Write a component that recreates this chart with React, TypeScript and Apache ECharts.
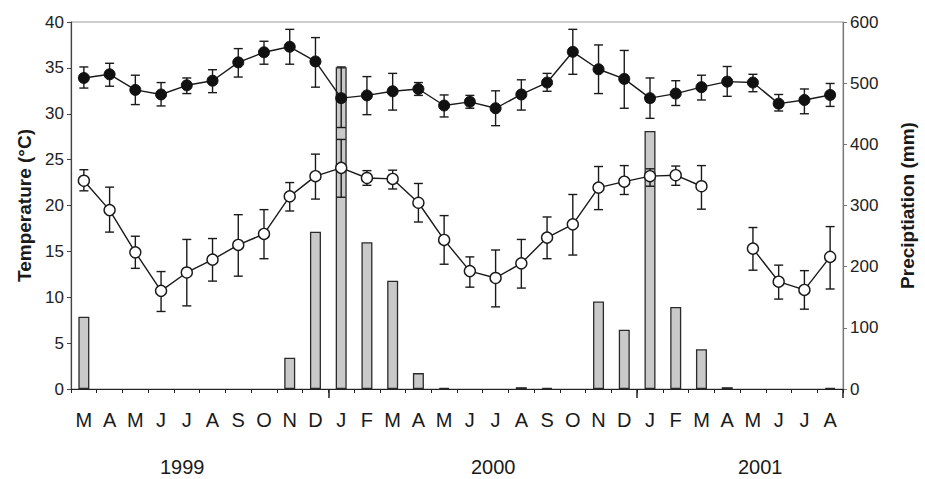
import React, { useEffect, useRef } from "react";
import * as echarts from "echarts";

const months = ["M","A","M","J","J","A","S","O","N","D","J","F","M","A","M","J","J","A","S","O","N","D","J","F","M","A","M","J","J","A"];
const years = ["1999", "2000", "2001"];

const maxTemp = [33.9,34.3,32.6,32.1,33.1,33.6,35.6,36.7,37.3,35.7,31.7,32.0,32.45,32.7,30.9,31.3,30.6,32.1,33.4,36.75,34.85,33.8,31.7,32.2,32.9,33.5,33.4,31.1,31.5,32.05];
const maxLow = [32.8,33.0,31.0,30.85,32.2,32.3,34.0,35.4,35.4,32.9,28.5,29.9,30.4,32.0,29.65,30.6,28.7,30.4,32.45,34.3,32.2,30.6,29.5,30.9,31.5,31.9,32.4,30.3,30.0,30.8];
const maxHigh = [35.1,35.5,34.2,33.4,33.9,34.8,37.1,37.9,39.2,38.3,35.1,34.05,34.4,33.4,32.05,32.0,32.5,33.7,34.4,39.2,37.5,36.9,33.9,33.6,34.2,35.15,34.3,32.1,32.7,33.3];

const minTemp = [22.7,19.5,14.9,10.7,12.7,14.1,15.7,16.9,21.0,23.2,24.1,23.0,22.9,20.3,16.25,12.85,12.1,13.7,16.5,17.95,21.95,22.6,23.2,23.3,22.1,null,15.3,11.7,10.8,14.4];
const minLow = [21.6,17.1,13.15,8.45,9.06,11.76,12.3,14.2,19.4,20.7,20.9,22.2,21.8,18.2,13.6,11.1,8.95,11.0,14.2,14.6,19.55,21.2,22.1,22.2,19.6,null,12.95,9.8,8.7,10.9];
const minHigh = [23.9,22.0,16.65,12.8,16.3,16.4,19.0,19.55,22.5,25.6,27.2,23.8,23.85,22.4,18.9,14.4,15.15,16.3,18.75,21.2,24.25,24.35,24.0,24.3,24.35,null,17.6,13.5,12.9,17.7];

const precip = [118,0,0,0,0,0,0,0,51,257,526,240,177,26,2,0,0,3,2,0,143,97,422,134,65,3,0,0,0,2];

const tempTicks = { min: 0, max: 40, interval: 5 };
const precipTicks = { min: 0, max: 600, interval: 100 };

const FONT = "'Liberation Sans', Arial, sans-serif";

function errorSeries(low: (number | null)[], high: (number | null)[]) {
  const data = low
    .map((l, i) => (l == null || high[i] == null ? null : [i, l, high[i]]))
    .filter((d) => d != null);
  return {
    type: "custom",
    xAxisIndex: 0,
    yAxisIndex: 0,
    z: 3,
    silent: true,
    data,
    renderItem: (params: any, api: any) => {
      const x = api.value(0);
      const lo = api.coord([x, api.value(1)]);
      const hi = api.coord([x, api.value(2)]);
      const cap = 4.5;
      const style = { stroke: "#1a1a1a", lineWidth: 1.4 };
      return {
        type: "group",
        children: [
          { type: "line", shape: { x1: lo[0], y1: lo[1], x2: hi[0], y2: hi[1] }, style },
          { type: "line", shape: { x1: lo[0] - cap, y1: lo[1], x2: lo[0] + cap, y2: lo[1] }, style },
          { type: "line", shape: { x1: hi[0] - cap, y1: hi[1], x2: hi[0] + cap, y2: hi[1] }, style },
        ],
      };
    },
  };
}

export default function App() {
  const ref = useRef<HTMLDivElement>(null);
  useEffect(() => {
    if (!ref.current) return;
    const chart = echarts.init(ref.current, null, { renderer: "svg" });
    const option: any = {
      animation: false,
      backgroundColor: "#fff",
      grid: {
        left: 71,
        right: 75,
        top: 22,
        bottom: 90,
        show: true,
        borderColor: "#9a9a9a",
        borderWidth: 1,
        backgroundColor: "transparent",
      },
      xAxis: [
        {
          type: "category",
          data: months,
          boundaryGap: true,
          axisLine: { lineStyle: { color: "#222", width: 1.2 } },
          axisTick: { show: true, length: 4, lineStyle: { color: "#222", width: 1 } },
          axisLabel: {
            interval: 0,
            margin: 21,
            fontSize: 20,
            fontFamily: FONT,
            color: "#1a1a1a",
          },
        },
        {
          type: "category",
          data: months,
          position: "bottom",
          boundaryGap: true,
          axisLine: { show: false },
          axisTick: {
            show: true,
            length: 9,
            interval: (i: number) => i === 10 || i === 22,
            lineStyle: { color: "#222", width: 1.5 },
          },
          axisLabel: { show: false },
        },
      ],
      yAxis: [
        {
          type: "value",
          ...tempTicks,
          name: "Temperature (°C)",
          nameLocation: "middle",
          nameRotate: 90,
          nameGap: 37,
          nameTextStyle: { fontSize: 19, fontWeight: "bold", fontFamily: FONT, color: "#1a1a1a" },
          splitLine: { show: false },
          axisLine: { show: true, lineStyle: { color: "#444", width: 1.2 } },
          axisTick: { show: true, length: 4, lineStyle: { color: "#444" } },
          axisLabel: { fontSize: 17, fontFamily: FONT, color: "#222", margin: 7 },
        },
        {
          type: "value",
          ...precipTicks,
          position: "right",
          name: "Preciptiation (mm)",
          nameLocation: "middle",
          nameRotate: 90,
          nameGap: 55,
          nameTextStyle: { fontSize: 19, fontWeight: "bold", fontFamily: FONT, color: "#1a1a1a" },
          splitLine: { show: false },
          axisLine: { show: true, lineStyle: { color: "#777", width: 1.2 } },
          axisTick: { show: true, length: 4, lineStyle: { color: "#777" } },
          axisLabel: { fontSize: 17, fontFamily: FONT, color: "#222", margin: 7 },
        },
      ],
      graphic: [
        { type: "text", left: 160, top: 457, style: { text: years[0], fontSize: 20, fontFamily: FONT, fill: "#1a1a1a" } },
        { type: "text", left: 471, top: 457, style: { text: years[1], fontSize: 20, fontFamily: FONT, fill: "#1a1a1a" } },
        { type: "text", left: 738, top: 457, style: { text: years[2], fontSize: 20, fontFamily: FONT, fill: "#1a1a1a" } },
      ],
      series: [
        {
          type: "bar",
          yAxisIndex: 1,
          z: 2,
          barWidth: 11,
          data: precip.map((v) => (v === 0 ? "-" : v)),
          itemStyle: { color: "#c9c9c9", borderColor: "#2a2a2a", borderWidth: 1.3 },
        },
        errorSeries(maxLow, maxHigh),
        errorSeries(minLow, minHigh),
        {
          type: "line",
          yAxisIndex: 0,
          z: 4,
          data: maxTemp,
          symbol: "circle",
          symbolSize: 11,
          lineStyle: { color: "#1a1a1a", width: 1.4 },
          itemStyle: { color: "#111", borderColor: "#111", borderWidth: 1 },
        },
        {
          type: "line",
          yAxisIndex: 0,
          z: 4,
          data: minTemp,
          connectNulls: false,
          symbol: "circle",
          symbolSize: 11,
          lineStyle: { color: "#1a1a1a", width: 1.4 },
          itemStyle: { color: "#fff", borderColor: "#1a1a1a", borderWidth: 1.4 },
        },
      ],
    };
    chart.setOption(option);
    return () => chart.dispose();
  }, []);
  return (
    <div
      ref={ref}
      style={{ position: "fixed", left: 0, top: 0, width: 925, height: 479 }}
    />
  );
}
